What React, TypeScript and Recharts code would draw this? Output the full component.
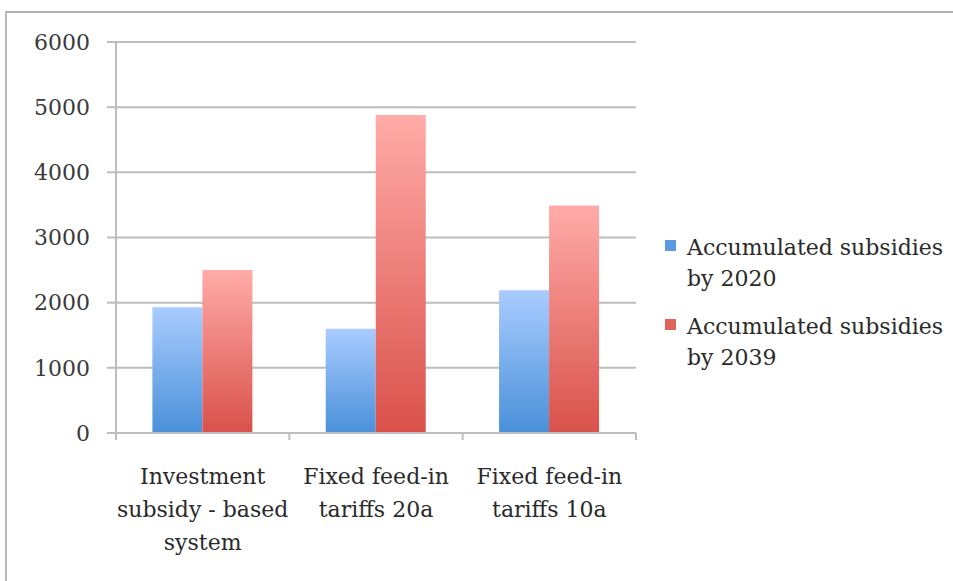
import React from "react";
import { BarChart, Bar, XAxis, YAxis, CartesianGrid, Legend } from "recharts";

const categories = ["Investment subsidy - based system", "Fixed feed-in tariffs 20a", "Fixed feed-in tariffs 10a"];
const categoryLines = [
  ["Investment", "subsidy - based", "system"],
  ["Fixed feed-in", "tariffs 20a"],
  ["Fixed feed-in", "tariffs 10a"],
];
const subsidies2020 = [1930, 1600, 2190];
const subsidies2039 = [2500, 4880, 3490];
const seriesNames = ["Accumulated subsidies by 2020", "Accumulated subsidies by 2039"];
const yTicks = [0, 1000, 2000, 3000, 4000, 5000, 6000];

const data = categories.map((c, i) => ({
  category: c,
  s2020: subsidies2020[i],
  s2039: subsidies2039[i],
}));

const FONT = "'DejaVu Serif', 'Liberation Serif', serif";
const AXIS = "#bdbdbd";

const CategoryTick = (props: any) => {
  const { x, y, index, width, visibleTicksCount } = props;
  const lines = categoryLines[index] || [];
  const half = width && visibleTicksCount ? width / visibleTicksCount / 2 : 0;
  return (
    <g>
      {half > 0 && (
        <line x1={x - half} x2={x - half} y1={y} y2={y + 7} stroke={AXIS} strokeWidth={2} />
      )}
      {half > 0 && index === visibleTicksCount - 1 && (
        <line x1={x + half} x2={x + half} y1={y} y2={y + 7} stroke={AXIS} strokeWidth={2} />
      )}
      {lines.map((l, i) => (
        <text
          key={i}
          x={x}
          y={y + 43 + i * 33}
          textAnchor="middle"
          dominantBaseline="central"
          fontFamily={FONT}
          fontSize={22}
          fill="#2a2a2a"
        >
          {l}
        </text>
      ))}
    </g>
  );
};

const LegendContent = (props: any) => {
  const { payload } = props;
  return (
    <div style={{ fontFamily: FONT, fontSize: 22, color: "#2a2a2a", lineHeight: "31px" }}>
      {(payload || []).map((p: any, i: number) => (
        <div key={i} style={{ position: "relative", paddingLeft: 22, width: 262, marginBottom: 17 }}>
          <span
            style={{
              position: "absolute",
              left: 0,
              top: 8,
              width: 11,
              height: 11,
              background: i === 0 ? "#5a9ae0" : "#e0635b",
            }}
          />
          {p.value}
        </div>
      ))}
    </div>
  );
};

export default function App() {
  return (
    <div style={{ position: "absolute", left: 0, top: 0, width: 953, height: 581, background: "#fff", overflow: "hidden" }}>
      <div style={{ position: "absolute", left: 5, top: 11, width: 948, height: 2, background: "#b0b0b0" }} />
      <div style={{ position: "absolute", left: 5, top: 11, width: 2, height: 570, background: "#b8b8b8" }} />
      <BarChart
        width={953}
        height={581}
        data={data}
        margin={{ top: 42, right: 317, left: 0, bottom: 0 }}
        barCategoryGap="21%"
        barGap={0}
        style={{ position: "absolute", left: 0, top: 0 }}
      >
        <defs>
          <linearGradient id="gBlue" x1="0" y1="0" x2="0" y2="1">
            <stop offset="0%" stopColor="#a9ccff" />
            <stop offset="100%" stopColor="#4a90d9" />
          </linearGradient>
          <linearGradient id="gRed" x1="0" y1="0" x2="0" y2="1">
            <stop offset="0%" stopColor="#ffaba8" />
            <stop offset="100%" stopColor="#d9514a" />
          </linearGradient>
        </defs>
        <CartesianGrid vertical={false} stroke={AXIS} strokeWidth={2} />
        <XAxis
          dataKey="category"
          height={148}
          axisLine={{ stroke: AXIS, strokeWidth: 2 }}
          tickLine={false}
          tickSize={0}
          tickMargin={0}
          interval={0}
          tick={<CategoryTick />}
        />
        <YAxis
          width={116}
          domain={[0, 6000]}
          ticks={yTicks}
          interval={0}
          tickSize={9}
          tickMargin={17}
          axisLine={{ stroke: AXIS, strokeWidth: 2 }}
          tickLine={{ stroke: AXIS, strokeWidth: 2 }}
          tick={{ fontFamily: FONT, fontSize: 22, fill: "#3a3a3a" }}
        />
        <Legend
          layout="vertical"
          align="center"
          verticalAlign="middle"
          wrapperStyle={{ left: 665, top: 232, width: 285 }}
          content={<LegendContent />}
        />
        <Bar dataKey="s2020" name={seriesNames[0]} fill="url(#gBlue)" isAnimationActive={false} />
        <Bar dataKey="s2039" name={seriesNames[1]} fill="url(#gRed)" isAnimationActive={false} />
      </BarChart>
    </div>
  );
}
